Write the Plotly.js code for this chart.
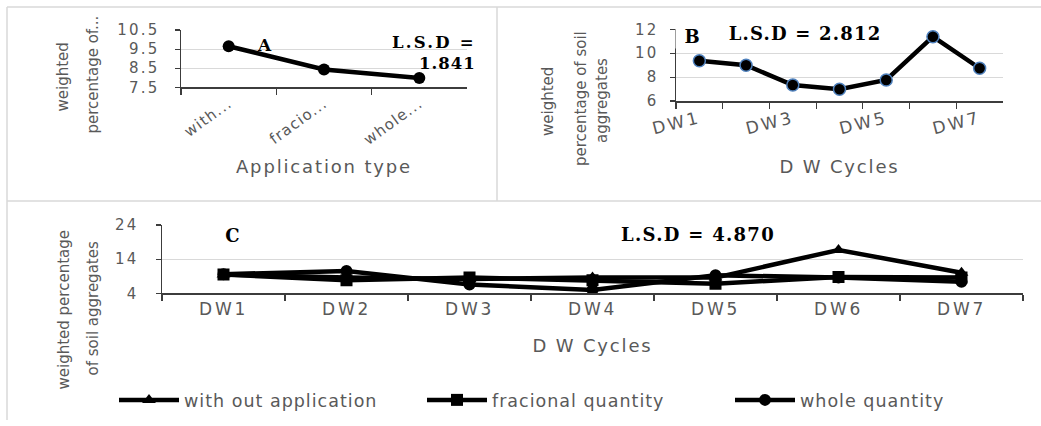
<!DOCTYPE html>
<html>
<head>
<meta charset="utf-8">
<script src="https://cdn.plot.ly/plotly-3.0.1.min.js"></script>
<style>
  html, body { margin: 0; padding: 0; background: #ffffff; }
  #chart { width: 1041px; height: 426px; }
</style>
</head>
<body>
<div id="chart"></div>
<script>
// ---- data ----------------------------------------------------------------
const appTypes = ["with out application", "fracional quantity", "whole quantity"];
const appTickLabels = ["with...", "fracio...", "whole..."];
const appMeans = [9.65, 8.43, 7.99];

const cycles = ["DW1", "DW2", "DW3", "DW4", "DW5", "DW6", "DW7"];
const cycleTickLabelsB = ["DW1", "", "DW3", "", "DW5", "", "DW7"];
const cycleMeans = [9.37, 8.99, 7.34, 6.98, 7.76, 11.38, 8.74];

const withoutApplication = [9.5, 8.6, 8.2, 8.6, 8.6, 16.7, 10.0];
const fracionalQuantity = [9.5, 7.8, 8.6, 7.8, 6.8, 8.8, 8.6];
const wholeQuantity = [9.6, 10.5, 6.6, 5.0, 9.3, 8.6, 7.4];

const yTicksA = [7.5, 8.5, 9.5, 10.5];
const yTicksB = [6, 8, 10, 12];
const yTicksC = [4, 14, 24];

const lsdA = "1.841";
const lsdB = "2.812";
const lsdC = "4.870";

// ---- helpers -------------------------------------------------------------
const W = 1041, H = 426;
const px = (x) => x / W;          // pixel column -> paper x
const py = (y) => 1 - y / H;      // pixel row -> paper y
const spaced = (t, ls) => t === "" ? "" : '<span style="letter-spacing:' + ls + 'px">' + t + '</span>';

const GRAY = "#595959";
const AXIS = "#3c3c3c";
const GRID = "#d9d9d9";
const SANS = "DejaVu Sans";
const SERIF = "DejaVu Serif";

const numAxis = (domain, anchor, range, ticks, standoff) => ({
  domain: domain, anchor: anchor, range: range,
  tickmode: "array", tickvals: ticks,
  ticktext: ticks.map(v => spaced(v.toFixed(String(v).includes(".") ? 1 : 0), 2.2)),
  ticks: "outside", ticklen: 5, tickwidth: 1.2, tickcolor: AXIS,
  showline: true, linecolor: AXIS, linewidth: 1.5,
  showgrid: true, gridcolor: GRID, gridwidth: 1.2, zeroline: false,
  tickfont: { family: SANS, size: 15, color: GRAY },
  ticklabelstandoff: standoff, fixedrange: true
});

const catAxis = (domain, anchor, cats, labels, angle, size, ls, title, standoff) => ({
  domain: domain, anchor: anchor, type: "category",
  range: [-0.5, cats.length - 0.5],
  tickmode: "array", tickvals: cats, ticktext: labels.map(t => spaced(t, ls)),
  tickson: "boundaries", ticks: "outside", ticklen: 6, tickwidth: 1.2, tickcolor: AXIS,
  showline: true, linecolor: AXIS, linewidth: 1.5, showgrid: false,
  tickangle: angle, tickfont: { family: SANS, size: size, color: GRAY },
  title: { text: spaced(title, 1.85), font: { family: SANS, size: 18, color: GRAY }, standoff: standoff },
  fixedrange: true
});

// ---- traces --------------------------------------------------------------
const traces = [
  {
    x: appTypes, y: appMeans, xaxis: "x", yaxis: "y", type: "scatter", mode: "lines+markers",
    line: { color: "#000000", width: 4.5 },
    marker: { symbol: "circle", size: 12, color: "#000000" },
    showlegend: false, hoverinfo: "x+y"
  },
  {
    x: cycles, y: cycleMeans, xaxis: "x2", yaxis: "y2", type: "scatter", mode: "lines+markers",
    line: { color: "#000000", width: 4.5 },
    marker: { symbol: "circle", size: 12, color: "#000000", line: { color: "#4f81bd", width: 1.5 } },
    showlegend: false, hoverinfo: "x+y"
  },
  {
    x: cycles, y: withoutApplication, xaxis: "x3", yaxis: "y3", type: "scatter", mode: "lines+markers",
    name: spaced("with out application", 1.0),
    line: { color: "#000000", width: 4.5 },
    marker: { symbol: "triangle-up", size: 12, color: "#000000" }
  },
  {
    x: cycles, y: fracionalQuantity, xaxis: "x3", yaxis: "y3", type: "scatter", mode: "lines+markers",
    name: spaced("fracional quantity", 1.0),
    line: { color: "#000000", width: 4.5 },
    marker: { symbol: "square", size: 12, color: "#000000" }
  },
  {
    x: cycles, y: wholeQuantity, xaxis: "x3", yaxis: "y3", type: "scatter", mode: "lines+markers",
    name: spaced("whole quantity", 1.0),
    line: { color: "#000000", width: 4.5 },
    marker: { symbol: "circle", size: 12, color: "#000000" }
  }
];

// ---- annotations ---------------------------------------------------------
const serifNote = (text, x, y, extra) => Object.assign({
  xref: "paper", yref: "paper", x: x, y: y, xanchor: "center", yanchor: "middle",
  text: text, showarrow: false, bgcolor: "#ffffff",
  font: { family: SERIF, size: 18, color: "#000000" }
}, extra || {});

const sideTitle = (text, x, y) => ({
  xref: "paper", yref: "paper", x: px(x), y: py(y), xanchor: "center", yanchor: "middle",
  text: text, textangle: -90, showarrow: false,
  font: { family: SANS, size: 15, color: GRAY }
});

const annotations = [
  serifNote("<b>A</b>", px(264), py(45), { bgcolor: "rgba(0,0,0,0)", font: { family: SERIF, size: 17, color: "#000000" } }),
  serifNote("<b>" + spaced("L.S.D =", 2.2) + "<br>" + spaced(lsdA, 1.0) + "</b>", px(478), py(53),
            { xanchor: "right", align: "right", bgcolor: "rgba(0,0,0,0)", font: { family: SERIF, size: 16.5, color: "#000000" } }),
  serifNote("<b>B</b>", px(692), py(36), { width: 30 }),
  serifNote("<b>" + spaced("L.S.D = " + lsdB, 1.2) + "</b>", px(805), py(33.5), { width: 200 }),
  serifNote("<b>C</b>", px(232), py(235), { width: 55 }),
  serifNote("<b>" + spaced("L.S.D = " + lsdC, 1.3) + "</b>", px(698), py(234), { width: 210 }),
  sideTitle("weighted", 62.5, 77),
  sideTitle("percentage of...", 92.5, 75),
  sideTitle("weighted", 548, 102),
  sideTitle("percentage of soil", 581, 99),
  sideTitle("aggregates", 602, 101),
  sideTitle("weighted percentage", 63.5, 310),
  sideTitle("of soil aggregates", 92.5, 309)
];

// ---- panel frames --------------------------------------------------------
const frame = (x0, y0, x1, y1) => ({
  type: "line", xref: "paper", yref: "paper",
  x0: px(x0), y0: py(y0), x1: px(x1), y1: py(y1),
  line: { color: GRID, width: 1.5 }, layer: "below"
});
const shapes = [
  frame(7, 7, 1041, 7),
  frame(7, 7, 7, 420),
  frame(497, 7, 497, 201),
  frame(7, 201, 1041, 201)
];

// ---- layout --------------------------------------------------------------
const layout = {
  width: W, height: H,
  margin: { l: 0, r: 0, t: 0, b: 0 },
  paper_bgcolor: "#ffffff", plot_bgcolor: "#ffffff",
  font: { family: SANS, color: GRAY },
  xaxis: catAxis([px(181), px(467)], "y", appTypes, appTickLabels, -36, 15, 1.2, "Application type", 12),
  yaxis: numAxis([py(87.3), py(30)], "x", [7.5, 10.5], yTicksA, 12),
  xaxis2: catAxis([px(676), px(1003)], "y2", cycles, cycleTickLabelsB, -14, 17, 2.7, "D W Cycles", 23),
  yaxis2: numAxis([py(101), py(29.3)], "x2", [6, 12], yTicksB, 8),
  xaxis3: catAxis([px(162), px(1023)], "y3", cycles, cycles, 0, 17, 2.7, "D W Cycles", 21),
  yaxis3: numAxis([py(293.3), py(225)], "x3", [4, 24], yTicksC, 14),
  showlegend: true,
  legend: {
    orientation: "h", x: px(114), y: py(400), xanchor: "left", yanchor: "middle",
    font: { family: SANS, size: 17.5, color: GRAY },
    itemwidth: 60, entrywidth: 233, entrywidthmode: "pixels",
    bgcolor: "rgba(0,0,0,0)", borderwidth: 0
  },
  annotations: annotations,
  shapes: shapes,
  hovermode: "closest"
};

Plotly.newPlot("chart", traces, layout, { displayModeBar: false, staticPlot: true });
</script>
</body>
</html>
